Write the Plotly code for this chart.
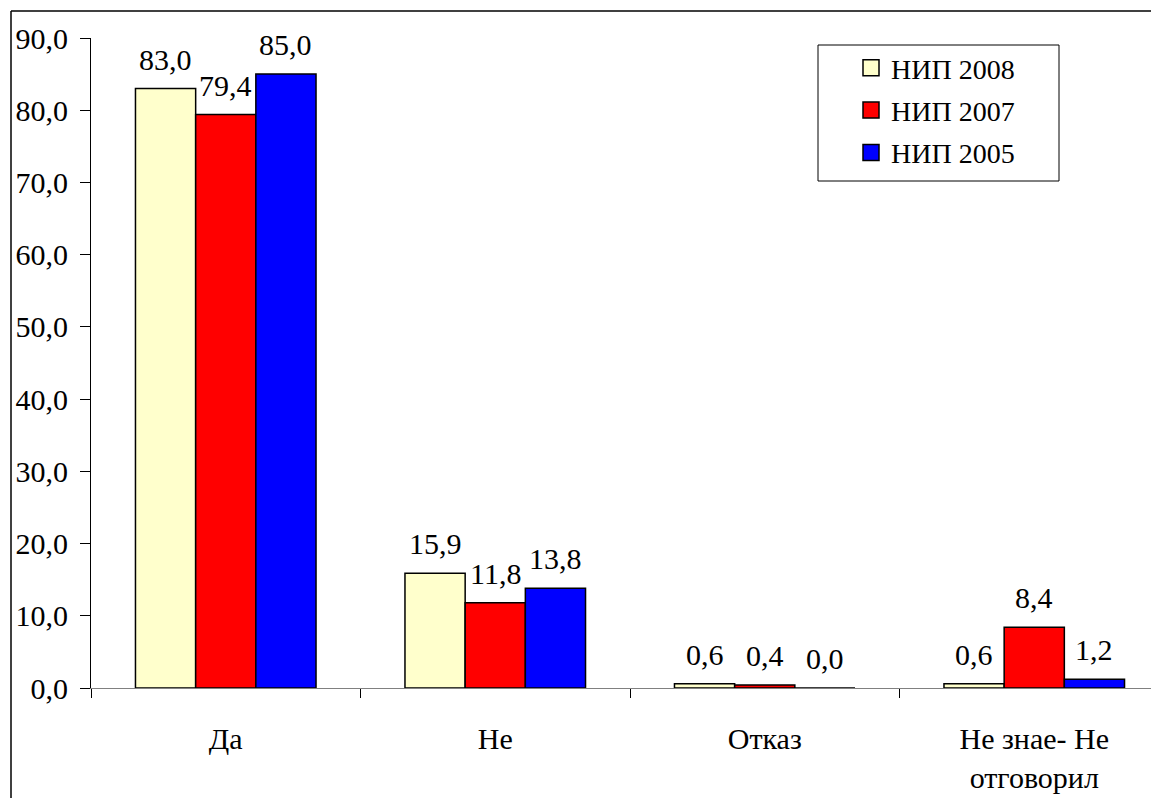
import plotly.graph_objects as go

categories = ["Да", "Не", "Отказ", "Не знае- Не<br>отговорил"]
series_names = ["НИП 2008", "НИП 2007", "НИП 2005"]
values_2008 = [83.0, 15.9, 0.6, 0.6]
values_2007 = [79.4, 11.8, 0.4, 8.4]
values_2005 = [85.0, 13.8, 0.0, 1.2]
colors = ["#FFFFCC", "#FF0000", "#0000FF"]
y_ticks = [0, 10, 20, 30, 40, 50, 60, 70, 80, 90]

FONT = "Liberation Serif, Times New Roman, serif"

# page body has an 8px margin, so figure coords = screen coords - 8
W, H = 1151, 790
L, R, T, B = 83, 0, 30, 110
pw = W - L - R
ph = H - T - B
BARGAP = 0.33
cat_px = 1078 / 4            # pixels per category
bar_px = cat_px * (1 - BARGAP) / 3

fig = go.Figure()
annotations = []
all_vals = [values_2008, values_2007, values_2005]
for i, (name, vals) in enumerate(zip(series_names, all_vals)):
    fig.add_trace(go.Bar(
        x=categories, y=vals, name=name, showlegend=False,
        marker=dict(color=colors[i], line=dict(color="black", width=1.5)),
        cliponaxis=False,
    ))
    for cat, v in zip(categories, vals):
        annotations.append(dict(
            x=cat, y=v, xref="x", yref="y",
            text=f"{v:.1f}".replace(".", ","), showarrow=False,
            xanchor="center", yanchor="bottom",
            xshift=(i - 1) * bar_px, yshift=11,
            font=dict(family=FONT, size=30, color="black"),
        ))

# legend entries with larger square symbols
for i, name in enumerate(series_names):
    fig.add_trace(go.Scatter(
        x=[categories[0]], y=[None], name=name, mode="markers",
        legendgroup=name,
        marker=dict(symbol="square", size=16, color=colors[i],
                    line=dict(color="black", width=1.5)),
        hoverinfo="skip",
    ))

box_x0, box_x1, box_y0, box_y1 = 810, 1051, 37, 173

fig.update_layout(
    width=W, height=H,
    margin=dict(l=L, r=R, t=T, b=B, pad=0),
    paper_bgcolor="white", plot_bgcolor="white",
    separators=", ",
    barmode="group", bargap=BARGAP, bargroupgap=0,
    font=dict(family=FONT, size=30, color="black"),
    showlegend=True,
    legend=dict(
        x=(843 - L) / pw, y=(H - B - 35) / ph, xanchor="left", yanchor="top",
        borderwidth=0, bgcolor="rgba(0,0,0,0)",
        font=dict(family=FONT, size=28, color="black"),
        tracegroupgap=3, itemwidth=30, itemsizing="trace",
    ),
    xaxis=dict(
        type="category", range=[-0.5, -0.5 + 4 * pw / 1078],
        showline=True, linecolor="#808080", linewidth=1,
        ticks="outside", tickson="boundaries", ticklen=9, tickcolor="black",
        tickfont=dict(family=FONT, size=30, color="black"),
        ticklabelstandoff=24,
        showgrid=False, zeroline=False,
    ),
    yaxis=dict(
        range=[0, 90], tickvals=y_ticks, tickformat=".1f",
        showline=True, linecolor="black", linewidth=1,
        ticks="outside", ticklen=10, tickcolor="black",
        tickfont=dict(family=FONT, size=30, color="black"),
        ticklabelstandoff=6,
        showgrid=False, zeroline=False,
    ),
    annotations=annotations,
    shapes=[
        dict(type="line", xref="paper", yref="paper",
             x0=(3 - L) / pw, x1=(3 - L) / pw, y0=(H - B - 3) / ph, y1=-B / ph,
             line=dict(color="black", width=1.5)),
        dict(type="line", xref="paper", yref="paper",
             x0=(3 - L) / pw, x1=(W - L) / pw, y0=(H - B - 3) / ph, y1=(H - B - 3) / ph,
             line=dict(color="black", width=1.5)),
        dict(type="rect", xref="paper", yref="paper",
             x0=(box_x0 - L) / pw, x1=(box_x1 - L) / pw,
             y0=(H - B - box_y1) / ph, y1=(H - B - box_y0) / ph,
             line=dict(color="black", width=1), fillcolor="white", layer="below"),
    ],
)
fig.write_html("out.html")
